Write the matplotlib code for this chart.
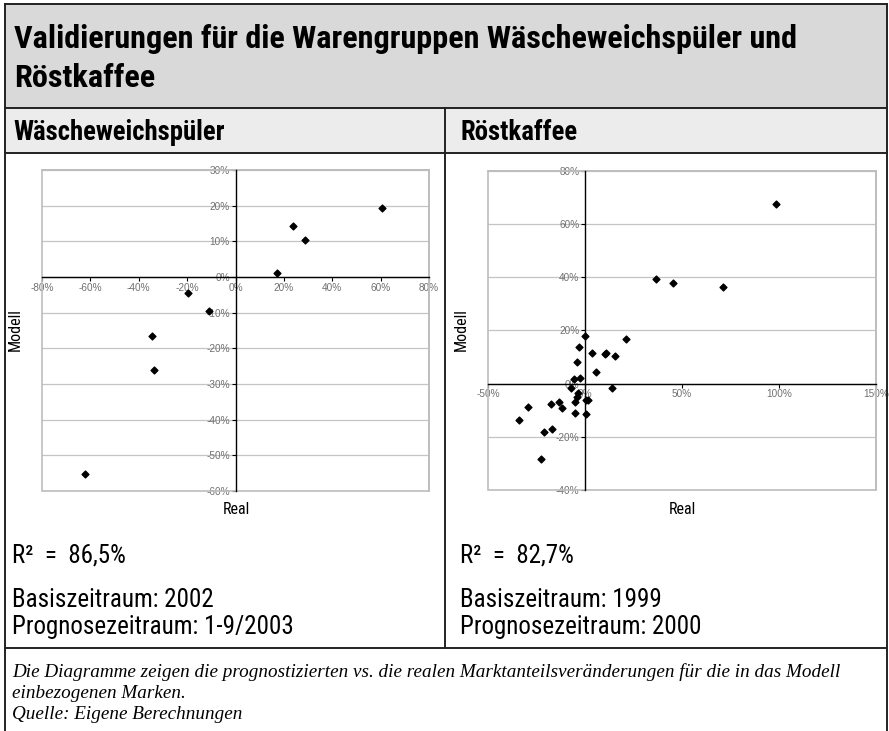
import matplotlib
matplotlib.use("Agg")
import matplotlib.pyplot as plt
from matplotlib import font_manager as fm
from matplotlib.patches import Rectangle
from matplotlib.lines import Line2D
from matplotlib.ticker import FuncFormatter, MultipleLocator

# data (values in %)
wasch_real = [60.6, 23.8, 28.7, 17.3, -19.6, -10.8, -34.5, -33.7, -62.1]
wasch_modell = [19.3, 14.3, 10.4, 1.0, -4.6, -9.5, -16.5, -26.1, -55.3]

kaffee_real = [98.5, 36.6, 45.4, 71.0, 20.9, 0.2, -3.2, 3.5, 10.2, 11.0, 15.3,
               -4.3, 5.8, -2.4, -5.8, -7.1, 13.8, -3.8, -4.3, 0.4, 1.5,
               -5.2, -13.4, -17.5, -11.9, -29.2, -5.2, 0.5, -33.9, -17.2,
               -21.3, -22.5]
kaffee_modell = [67.5, 39.3, 37.8, 36.2, 16.8, 18.0, 13.7, 11.4, 11.3, 11.4, 10.5,
                 8.0, 4.5, 2.2, 1.7, -1.7, -1.5, -3.4, -4.9, -6.2, -6.2,
                 -6.8, -6.9, -7.7, -9.0, -8.8, -11.2, -11.3, -13.6, -17.1,
                 -18.1, -28.5]

title = ["Validierungen für die Warengruppen Wäscheweichspüler und", "Röstkaffee"]
panels = ["Wäscheweichspüler", "Röstkaffee"]
r2_texts = ["R²  =  86,5%", "R²  =  82,7%"]
basis = ["Basiszeitraum: 2002", "Basiszeitraum: 1999"]
prognose = ["Prognosezeitraum: 1-9/2003", "Prognosezeitraum: 2000"]
footer = ["Die Diagramme zeigen die prognostizierten vs. die realen Marktanteilsveränderungen für die in das Modell",
          "einbezogenen Marken.",
          "Quelle: Eigene Berechnungen"]

# fonts: narrow sans if there is one
names = {f.name for f in fm.fontManager.ttflist}
narrow = None
for cand in ["Roboto Condensed", "Liberation Sans Narrow", "Open Sans Condensed"]:
    if cand in names:
        narrow = cand
        break
if narrow is None:
    narrow = "Liberation Sans"
    scale = 0.85
else:
    scale = 1.0
SANS = [narrow, "DejaVu Sans"]
TICKFONT = "Liberation Sans" if "Liberation Sans" in names else "DejaVu Sans"
SERIF = ["Liberation Serif", "DejaVu Serif"]
plt.rcParams["font.family"] = SANS

W, H = 889, 731
fig = plt.figure(figsize=(W / 100, H / 100), dpi=100)


def fx(x):
    return x / W


def fy(y):
    return 1 - y / H


def ftext(x, y, s, size, **kw):
    fig.text(fx(x), fy(y), s, fontsize=size * scale, family=kw.pop("family", SANS), **kw)


# bands and frame
fig.patches.append(Rectangle((fx(5), fy(108)), fx(887) - fx(5), fy(4) - fy(108),
                             transform=fig.transFigure, facecolor="#d9d9d9", edgecolor="none"))
fig.patches.append(Rectangle((fx(5), fy(153)), fx(887) - fx(5), fy(108) - fy(153),
                             transform=fig.transFigure, facecolor="#ececec", edgecolor="none"))
for (x0, y0, x1, y1) in [(5, 4, 887, 4), (5, 4, 5, 731), (887, 4, 887, 731),
                         (5, 108, 887, 108), (5, 153, 887, 153), (5, 648, 887, 648),
                         (445, 108, 445, 648)]:
    fig.lines.append(Line2D([fx(x0), fx(x1)], [fy(y0), fy(y1)], transform=fig.transFigure,
                            color="#222222", lw=1.4))

# texts
ftext(14, 48, title[0], 23.2, weight="bold", va="baseline")
ftext(14, 87, title[1], 23.2, weight="bold", va="baseline")
ftext(13, 140, panels[0], 19.3, weight="bold", va="baseline")
ftext(460, 140, panels[1], 19.3, weight="bold", va="baseline")

for i, x in enumerate([12, 460]):
    ftext(x, 562, r2_texts[i], 18, va="baseline")
    ftext(x, 607, basis[i], 18, va="baseline")
    ftext(x, 634, prognose[i], 18, va="baseline")

for s, y in zip(footer, [677, 698, 719]):
    ftext(12, y, s, 13.8, va="baseline", style="italic", family=SERIF)

pct = FuncFormatter(lambda v, p: f"{v:.0f}%")


def scatter_panel(box, xs, ys, xlim, ylim, xstep, ystep, xlab_pos, ylab_pos):
    x0, y0, x1, y1 = box
    ax = fig.add_axes([fx(x0), fy(y1), fx(x1) - fx(x0), fy(y0) - fy(y1)])
    ax.set_xlim(*xlim)
    ax.set_ylim(*ylim)
    ax.xaxis.set_major_locator(MultipleLocator(xstep))
    ax.yaxis.set_major_locator(MultipleLocator(ystep))
    ax.xaxis.set_major_formatter(pct)
    ax.yaxis.set_major_formatter(pct)
    ax.spines["left"].set_position(("data", 0))
    ax.spines["bottom"].set_position(("data", 0))
    for sp in ["left", "bottom"]:
        ax.spines[sp].set_color("black")
        ax.spines[sp].set_linewidth(1.0)
        ax.spines[sp].set_zorder(3)
    for sp in ["top", "right"]:
        ax.spines[sp].set_color("#bdbdbd")
        ax.spines[sp].set_linewidth(1.2)
    ax.add_patch(Rectangle((0, 0), 1, 1, transform=ax.transAxes, fill=False,
                           edgecolor="#bdbdbd", lw=1.2, zorder=1, clip_on=False))
    ax.grid(axis="y", color="#c4c4c4", lw=0.9, zorder=0)
    ax.set_axisbelow(True)
    ax.tick_params(direction="out", length=3, width=0.8, color="black",
                   labelsize=7.2, labelcolor="#707070", pad=1,
                   labelfontfamily=TICKFONT)
    ax.scatter(xs, ys, marker="D", s=12, color="black", zorder=4, clip_on=False)
    ftext(xlab_pos[0], xlab_pos[1], "Real", 11.5, ha="center", va="center")
    ftext(ylab_pos[0], ylab_pos[1], "Modell", 11.5, ha="center", va="center", rotation=90)
    return ax


scatter_panel((42, 170, 429, 491), wasch_real, wasch_modell, (-80, 80), (-60, 30), 20, 10,
              (236, 510), (15, 330))
scatter_panel((488, 171, 876, 490), kaffee_real, kaffee_modell, (-50, 150), (-40, 80), 50, 20,
              (682, 510), (461, 330))

fig.savefig("out.png", dpi=100)
